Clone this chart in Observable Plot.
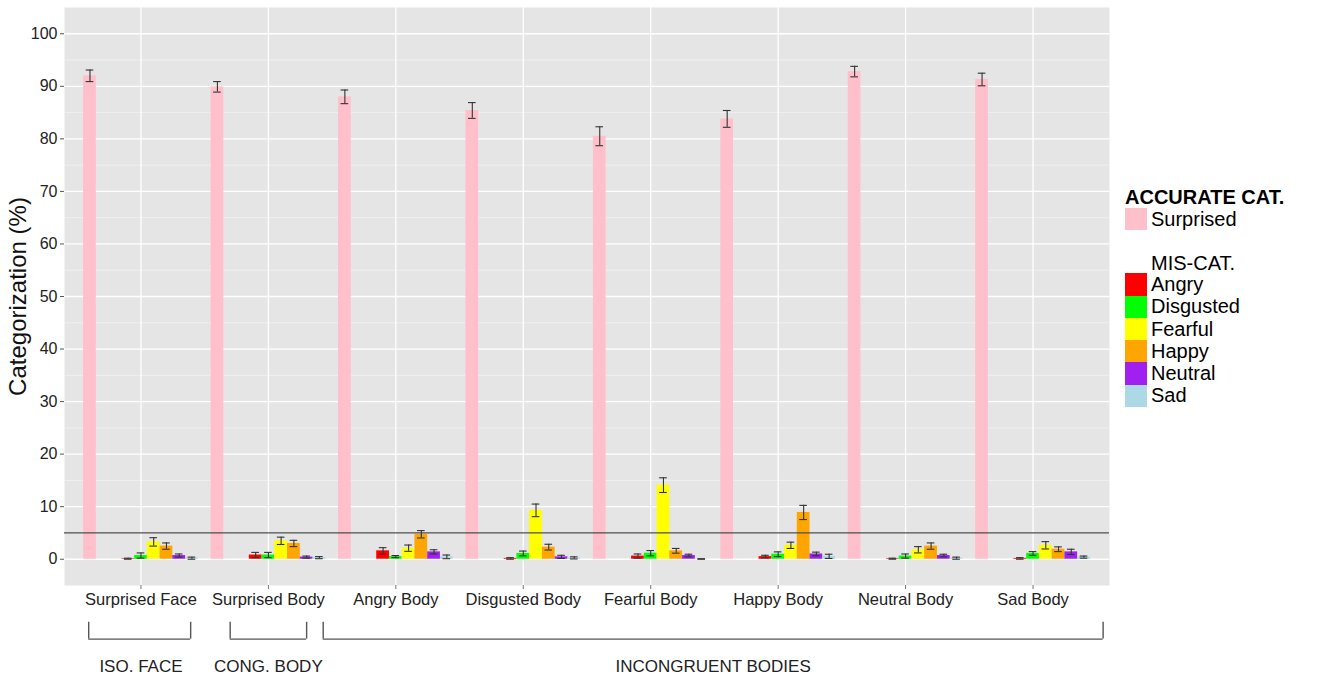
<!DOCTYPE html>
<html>
<head>
<meta charset="utf-8">
<script src="https://cdn.jsdelivr.net/npm/d3@7"></script>
<script src="https://cdn.jsdelivr.net/npm/@observablehq/plot@0.6"></script>
<style>
  body { margin: 0; background: #fff; font-family: "Liberation Sans", Arial, sans-serif; }
  #wrap { position: relative; width: 1317px; height: 675px; overflow: hidden; }
  #chart { position: absolute; left: 0; top: 0; }
  #legend { position: absolute; left: 1125px; top: 185px; color: #000; font-size: 20px; }
  #legend .title { height: 23px; line-height: 24px; }
  #legend .bold { font-weight: bold; }
  #legend .row { display: flex; align-items: center; height: 22.3px; }
  #legend .sw { width: 22px; height: 22.3px; margin-right: 4px; }
  #legend .gap { height: 21px; }
  #legend .sub { height: 22px; line-height: 24px; padding-left: 26px; }
</style>
</head>
<body>
<div id="wrap">
  <div id="chart"></div>
  <div id="legend"></div>
</div>
<script>
// Stimulus categories along the x axis
const categories = ["Surprised Face", "Surprised Body", "Angry Body", "Disgusted Body",
                    "Fearful Body", "Happy Body", "Neutral Body", "Sad Body"];

// Accurate categorization (Surprised), mean % and error
const surprised    = [92.0, 89.9, 88.0, 85.4, 80.5, 83.8, 92.8, 91.3];
const surprisedErr = [1.1, 1.0, 1.3, 1.5, 1.8, 1.6, 1.0, 1.2];

// Mis-categorizations, mean % and error per stimulus category
const misCats = ["Angry", "Disgusted", "Fearful", "Happy", "Neutral", "Sad"];
const angry        = [0.1, 0.8, 1.6, 0.15, 0.6, 0.5, 0.1, 0.15];
const angryErr     = [0.1, 0.5, 0.6, 0.15, 0.4, 0.25, 0.1, 0.15];
const disgusted    = [0.7, 0.8, 0.5, 1.1, 1.15, 0.95, 0.6, 1.1];
const disgustedErr = [0.5, 0.5, 0.2, 0.45, 0.5, 0.45, 0.4, 0.35];
const fearful      = [3.3, 3.5, 2.1, 9.3, 14.1, 2.65, 1.8, 2.65];
const fearfulErr   = [0.8, 0.7, 0.6, 1.2, 1.4, 0.6, 0.6, 0.7];
const happy        = [2.5, 3.0, 4.75, 2.3, 1.6, 8.9, 2.5, 1.9];
const happyErr     = [0.6, 0.6, 0.7, 0.55, 0.45, 1.35, 0.6, 0.45];
const neutral      = [0.7, 0.4, 1.4, 0.45, 0.7, 1.0, 0.7, 1.4];
const neutralErr   = [0.3, 0.2, 0.4, 0.3, 0.25, 0.35, 0.25, 0.5];
const sad          = [0.2, 0.3, 0.45, 0.25, 0.05, 0.55, 0.2, 0.4];
const sadErr       = [0.2, 0.2, 0.35, 0.2, 0.05, 0.4, 0.2, 0.2];

// Chance level reference line
const chanceLevel = [5];

// Stimulus groupings shown under the axis (range in category units)
const groupNames = ["ISO. FACE", "CONG. BODY", "INCONGRUENT BODIES"];
const groupStart = [0.59, 1.70, 2.43];
const groupEnd   = [1.39, 2.30, 8.55];
const groupLabelAt = [1.0, 2.0, 5.49];

const emotions = ["Surprised", ...misCats];
const colors   = ["pink", "red", "#00FF00", "yellow", "orange", "#A020F0", "lightblue"];

const values = { Angry: angry, Disgusted: disgusted, Fearful: fearful, Happy: happy, Neutral: neutral, Sad: sad };
const errors = { Angry: angryErr, Disgusted: disgustedErr, Fearful: fearfulErr, Happy: happyErr, Neutral: neutralErr, Sad: sadErr };

// Dodge layout: 9 slots of width 0.1 per category; Surprised sits in slot 0,
// the mis-categories fill slots 3..8.
const slotWidth = 0.1;
const slotOf = { Surprised: 0, Angry: 3, Disgusted: 4, Fearful: 5, Happy: 6, Neutral: 7, Sad: 8 };

const rows = [];
categories.forEach((c, i) => {
  rows.push({ cat: i + 1, emotion: "Surprised", v: surprised[i], e: surprisedErr[i] });
  misCats.forEach(m => rows.push({ cat: i + 1, emotion: m, v: values[m][i], e: errors[m][i] }));
});
rows.forEach(r => { r.xc = r.cat + (slotOf[r.emotion] - 4) * slotWidth; });

const groups = groupNames.map((g, i) => ({ name: g, x1: groupStart[i], x2: groupEnd[i], at: groupLabelAt[i] }));

const capHalf = 0.03;
const ink = "#333";

const chart = Plot.plot({
  width: 1113,
  height: 675,
  marginLeft: 64,
  marginRight: 4,
  marginTop: 7,
  marginBottom: 90,
  style: { fontFamily: "'Liberation Sans', Arial, sans-serif", fontSize: "16px", color: ink, background: "transparent" },
  x: { domain: [0.4, 8.6] },
  y: { domain: [-5, 105] },
  color: { domain: emotions, range: colors },
  marks: [
    // panel background and grid
    Plot.frame({ fill: "#E5E5E5", stroke: null }),
    Plot.ruleY(d3.range(5, 100, 10), { stroke: "#F2F2F2", strokeWidth: 0.8 }),
    Plot.ruleY(d3.range(0, 101, 10), { stroke: "white", strokeWidth: 1.3 }),
    Plot.ruleX(d3.range(1, categories.length + 1), { stroke: "white", strokeWidth: 1.3 }),
    // bars
    Plot.rectY(rows, {
      x1: d => d.xc - slotWidth / 2,
      x2: d => d.xc + slotWidth / 2,
      y1: 0,
      y2: "v",
      fill: "emotion"
    }),
    // chance line
    Plot.ruleY(chanceLevel, { stroke: "#4d4d4d", strokeWidth: 1.2 }),
    // error bars
    Plot.ruleX(rows, { x: "xc", y1: d => d.v - d.e, y2: d => d.v + d.e, stroke: ink, strokeWidth: 1.1 }),
    Plot.ruleY(rows, { y: d => d.v - d.e, x1: d => d.xc - capHalf, x2: d => d.xc + capHalf, stroke: ink, strokeWidth: 1.1 }),
    Plot.ruleY(rows, { y: d => d.v + d.e, x1: d => d.xc - capHalf, x2: d => d.xc + capHalf, stroke: ink, strokeWidth: 1.1 }),
    // axes
    Plot.axisY({
      ticks: d3.range(0, 101, 10), tickSize: 4, tickPadding: 3, fontSize: 16,
      label: null, stroke: "#555", fill: "#222"
    }),
    Plot.axisX({
      ticks: d3.range(1, categories.length + 1), tickSize: 4, tickPadding: 4, fontSize: 16.5,
      tickFormat: i => categories[i - 1], label: null, stroke: "#777", fill: "#222"
    }),
    Plot.text(["Categorization (%)"], {
      frameAnchor: "left", textAnchor: "middle", rotate: -90, dx: -46,
      fontSize: 24, fill: "#111", text: d => d
    }),
    // group brackets below the axis
    Plot.ruleX(groups, { x: "x1", y1: -12, y2: -15.2, stroke: "#555", strokeWidth: 1.4 }),
    Plot.ruleX(groups, { x: "x2", y1: -12, y2: -15.2, stroke: "#555", strokeWidth: 1.4 }),
    Plot.ruleY(groups, { y: -15.2, x1: "x1", x2: "x2", stroke: "#555", strokeWidth: 1.4 }),
    Plot.text(groups, { x: "at", y: -20.4, text: "name", fontSize: 17, fill: "#222" })
  ]
});
document.getElementById("chart").append(chart);

// legend
const legend = document.getElementById("legend");
const add = (cls, html) => { const d = document.createElement("div"); d.className = cls; d.innerHTML = html; legend.append(d); return d; };
add("title bold", "ACCURATE CAT.");
const row = (name, color) => {
  const r = add("row", "");
  const s = document.createElement("div"); s.className = "sw"; s.style.background = color;
  const t = document.createElement("span"); t.textContent = name;
  r.append(s, t);
};
row(emotions[0], colors[0]);
add("gap", "");
add("sub", "MIS-CAT.");
misCats.forEach((m, i) => row(m, colors[i + 1]));
</script>
</body>
</html>
